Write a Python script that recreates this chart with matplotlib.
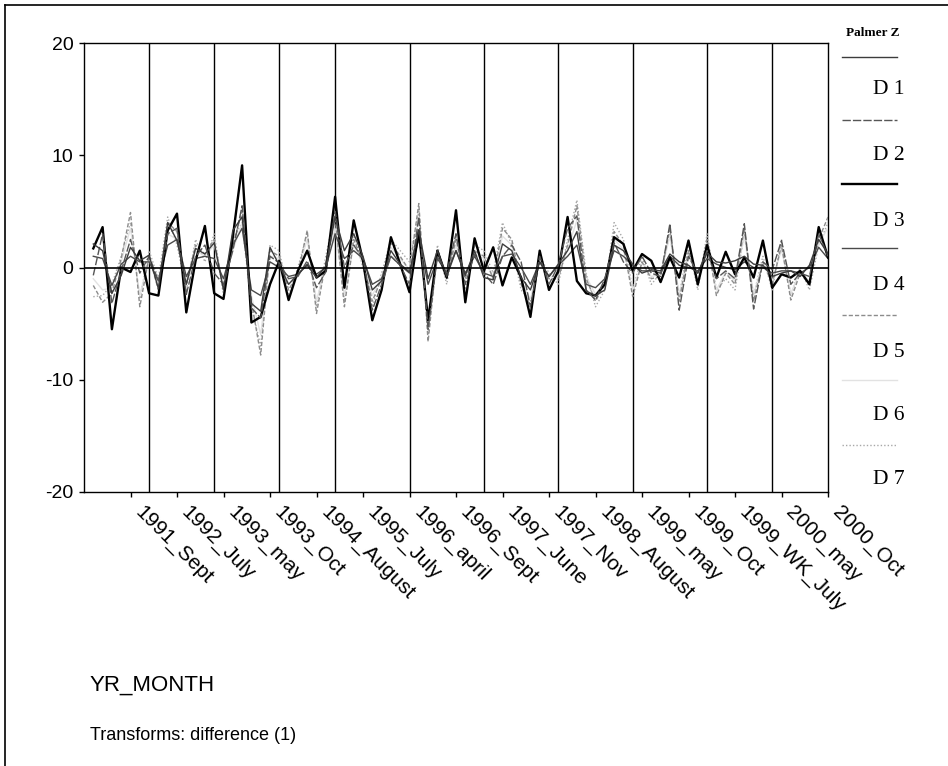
import numpy as np
import matplotlib
matplotlib.use("Agg")
import matplotlib.pyplot as plt
import matplotlib.transforms as mtransforms
from matplotlib.lines import Line2D

# ---- data -------------------------------------------------------------
tick_pos = [5, 10, 15, 20, 25, 30, 35, 40, 45, 50, 55, 60, 65, 70, 75, 80]
tick_labels = ["1991_Sept", "1992_July", "1993_may", "1993_Oct", "1994_August",
               "1995_July", "1996_april", "1996_Sept", "1997_June", "1997_Nov",
               "1998_August", "1999_may", "1999_Oct", "1999_WK_July", "2000_may",
               "2000_Oct"]
year_starts = [7, 14, 21, 27, 35, 43, 51, 59, 67, 74]

series_names = ["D 1", "D 2", "D 3", "D 4", "D 5", "D 6", "D 7"]

d1 = [2.1, 1.5, -2.3, -0.7, 1.8, 0.6, 1.1, -1.9, 4.0, 2.4, -1.5, 1.7, 1.2, 2.2, -2.0, 3.3,
      4.5, -3.2, -3.9, 1.8, 0.2, -1.5, -0.6, 0.2, -0.9, 0.1, 4.5, 1.5, 3.0, 1.0, -2.0, -1.2,
      1.5, 0.3, -0.4, 3.3, -1.0, 1.5, -0.8, 1.5, -0.7, 1.5, -0.9, -1.1, 2.1, 1.5, -0.9, -2.0,
      0.5, -0.8, 0.3, 1.5, 3.2, -2.1, -2.5, -2.0, 2.0, 1.5, 0.3, -0.5, -0.2, -0.3, 1.2, 0.5,
      0.2, -0.5, 1.3, 0.5, 0.4, 0.6, 1.0, 0.3, 0.2, -0.8, -0.5, -0.3, -0.8, 0.2, 2.5, 1.2]
d2 = [-0.7, 3.0, -3.2, -0.3, 2.5, -0.5, 1.0, -1.2, 3.0, 3.5, -2.4, 1.0, 2.0, -0.5, -1.5, 1.5,
      5.5, -3.6, -4.5, 1.0, 0.4, -1.0, -0.8, 0.6, -1.8, -0.4, 5.0, 0.0, 2.0, 0.8, -3.8, -1.5,
      1.0, 0.2, -1.5, 4.5, -5.5, 1.0, -0.5, 3.0, -1.5, 1.2, -0.5, -1.5, 1.0, 2.0, 0.5, -3.5,
      1.0, -1.5, 0.2, 3.5, 4.6, -2.0, -2.9, -1.0, 2.2, 0.5, -0.5, 1.0, -0.5, -0.8, 3.9, -3.8,
      1.0, -0.5, 1.5, -1.0, -0.3, -1.0, 3.9, -3.7, 0.5, -0.2, 2.4, -1.5, -0.5, -0.8, 3.0, 1.0]
d3 = [1.7, 3.6, -5.5, 0.0, -0.4, 1.5, -2.3, -2.5, 3.3, 4.8, -4.0, 0.6, 3.7, -2.3, -2.8, 2.7,
      9.1, -4.9, -4.4, -1.5, 0.6, -2.9, -0.3, 1.5, -0.9, -0.3, 6.3, -1.8, 4.2, 0.6, -4.7, -2.0,
      2.7, 0.3, -2.2, 3.3, -4.7, 1.5, -0.9, 5.1, -3.1, 2.6, -0.3, 1.8, -1.6, 0.9, -0.9, -4.4,
      1.5, -2.0, -0.3, 4.5, -1.2, -2.3, -2.5, -1.5, 2.7, 2.1, -0.3, 1.2, 0.6, -1.3, 0.9, -0.9,
      2.4, -1.5, 2.0, -0.9, 1.4, -0.6, 0.9, -0.9, 2.4, -1.8, -0.6, -0.9, -0.3, -1.5, 3.6, 0.9]
d4 = [1.0, 0.8, -1.6, 0.3, 1.0, 0.5, 0.5, -1.2, 2.0, 2.5, -0.8, 0.8, 1.0, 0.8, -1.0, 2.0,
      3.5, -2.0, -2.5, 0.5, 0.0, -0.8, -0.6, 0.3, -0.6, 0.0, 3.0, 0.8, 1.5, 0.8, -1.5, -1.0,
      1.0, 0.2, -0.5, 2.5, -1.5, 0.8, -0.5, 1.5, -0.5, 1.0, -0.5, -0.8, 1.0, 1.2, 0.0, -1.5,
      0.5, -0.8, 0.2, 1.0, 2.0, -1.5, -1.8, -1.0, 1.5, 1.0, 0.2, -0.3, -0.3, -0.5, 1.0, 0.2,
      0.0, -0.3, 0.8, 0.3, 0.0, -0.2, 0.5, 0.0, 0.0, -0.5, -0.3, -0.3, -0.5, 0.0, 1.8, 0.8]
d5 = [-1.6, -3.1, -2.3, 0.8, 4.9, -3.5, 1.0, -2.0, 4.0, 3.2, -1.5, 2.0, 1.2, 2.5, -2.0, 2.0,
      5.0, -3.0, -7.8, 1.5, 1.0, -2.0, -0.5, 3.3, -4.1, 0.5, 4.5, -3.5, 2.5, 0.5, -3.0, -1.0,
      2.2, 1.0, -0.3, 5.7, -6.6, 1.5, -1.0, 2.5, -1.0, 1.5, 1.0, -1.0, 3.5, 2.5, -1.5, -3.5,
      0.5, -1.0, -1.0, 2.0, 5.5, -1.0, -3.0, -1.5, 3.2, 2.0, -2.6, 0.5, -1.0, -0.8, 3.5, -3.0,
      1.5, -1.5, 2.5, -2.5, -0.5, -1.5, 3.5, -3.0, 0.5, -1.5, 2.0, -2.9, -0.5, -1.5, 2.5, 4.5]
d6 = [-1.0, -2.0, -1.8, 0.5, 3.5, -2.5, 0.8, -1.5, 3.0, 2.5, -1.0, 1.5, 1.0, 2.0, -1.5, 1.5,
      4.0, -2.5, -6.0, 1.0, 0.8, -1.5, -0.4, 2.5, -3.0, 0.3, 3.5, -2.5, 2.0, 0.4, -2.5, -0.8,
      1.8, 0.8, -0.2, 4.5, -5.0, 1.2, -0.8, 2.0, -0.8, 1.2, 0.8, -0.8, 2.8, 2.0, -1.2, -2.8,
      0.4, -0.8, -0.8, 1.6, 4.2, -0.8, -2.4, -1.2, 2.5, 1.6, -2.0, 0.4, -0.8, -0.6, 2.8, -2.4,
      1.2, -1.2, 2.0, -2.0, -0.4, -1.2, 2.8, -2.4, 0.4, -1.2, 1.6, -2.3, -0.4, -1.2, 2.0, 3.6]
d7 = [-2.6, -2.5, -1.5, 1.0, 4.0, -2.8, 1.5, -1.0, 4.5, 2.0, -2.0, 2.5, 0.5, 3.0, -2.5, 2.5,
      4.0, -3.5, -7.0, 2.0, 1.5, -2.5, 0.0, 3.0, -3.5, 1.0, 5.0, -3.0, 3.0, 0.0, -3.5, -0.5,
      2.5, 1.5, 0.5, 5.0, -6.0, 2.0, -1.5, 3.0, -2.0, 2.0, 1.5, -0.5, 4.0, 2.0, -2.0, -3.0,
      1.0, -0.5, -1.5, 2.5, 6.0, -0.5, -3.5, -2.0, 4.0, 2.5, -2.0, 1.0, -1.5, -0.5, 3.0, -2.5,
      2.0, -2.0, 3.0, -2.0, -1.0, -2.0, 3.0, -2.5, 1.0, -2.0, 2.5, -2.5, 0.0, -2.0, 2.0, 4.0]

# ---- styling ----------------------------------------------------------
styles = [
    dict(color="#3c3c3c", lw=1.0, ls="-"),
    dict(color="#555555", lw=1.0, ls=(0, (6, 1.5))),
    dict(color="#000000", lw=1.7, ls="-"),
    dict(color="#4a4a4a", lw=1.0, ls="-"),
    dict(color="#8c8c8c", lw=1.0, ls=(0, (3, 1.5))),
    dict(color="#e2e2e2", lw=1.0, ls="-"),
    dict(color="#a8a8a8", lw=1.0, ls=(0, (1, 1.5))),
]
values = [d1, d2, d3, d4, d5, d6, d7]
x = np.arange(1, len(d3) + 1)

sans = ["Liberation Sans", "DejaVu Sans"]
serif = ["Liberation Serif", "DejaVu Serif"]

W, H = 948, 766
fig = plt.figure(figsize=(W / 100, H / 100), dpi=100)
fig.patch.set_facecolor("white")

ax = fig.add_axes([84 / W, 1 - 492 / H, (828 - 84) / W, (492 - 43) / H])

for vals, st in reversed(list(zip(values, styles))):
    ax.plot(x, vals, color=st["color"], lw=st["lw"], ls=st["ls"], zorder=3)

for ys in year_starts:
    ax.axvline(ys, color="black", lw=1.0, zorder=2)
ax.axhline(0, color="black", lw=1.2, zorder=4)

ax.set_xlim(0, 80)
ax.set_ylim(-20, 20)
ax.set_yticks([-20, -10, 0, 10, 20])
ax.set_yticklabels(["-20", "-10", "0", "10", "20"], fontfamily=sans, fontsize=14)
ax.set_xticks(tick_pos)
ax.set_xticklabels(tick_labels, fontfamily=sans, fontsize=15, rotation=-45,
                   ha="left", va="top", rotation_mode="anchor")
ax.tick_params(axis="both", direction="out", length=3.6, width=1, color="black", pad=4)
ax.tick_params(axis="x", pad=4)

# nudge the slanted month labels so they start just right of their ticks
shift = mtransforms.ScaledTranslation(14 / 100, 0 / 100, fig.dpi_scale_trans)
for lab in ax.get_xticklabels():
    lab.set_transform(lab.get_transform() + shift)

for sp in ax.spines.values():
    sp.set_linewidth(1.0)
    sp.set_color("black")

# ---- legend ----------------------------------------------------------
def fx(px):
    return px / W

def fy(py):
    return 1 - py / H

fig.text(fx(873), fy(33), "Palmer Z", family=serif, fontweight="bold", fontsize=9.5,
         ha="center", va="center")
line_y = [57, 120, 184, 248, 315, 380, 445]
label_y = [90, 155, 222, 285, 352, 415, 480]
for name, st, ly, ty in zip(series_names, styles, line_y, label_y):
    fig.add_artist(Line2D([fx(842), fx(897)], [fy(ly), fy(ly)], color=st["color"],
                          lw=st["lw"], ls=st["ls"], transform=fig.transFigure))
    fig.text(fx(889), fy(ty), name, family=serif, fontsize=15.5, ha="center", va="center")

# ---- captions ---------------------------------------------------------
fig.text(fx(90), fy(685), "YR_MONTH", family=sans, fontsize=16, ha="left", va="center")
fig.text(fx(90), fy(735), "Transforms: difference (1)", family=sans, fontsize=13,
         ha="left", va="center")

# outer frame
fig.add_artist(Line2D([fx(5), fx(5)], [fy(5), fy(766)], color="black", lw=1.2,
                      transform=fig.transFigure))
fig.add_artist(Line2D([fx(5), fx(948)], [fy(5), fy(5)], color="black", lw=1.2,
                      transform=fig.transFigure))

fig.savefig("out.png", dpi=100)
